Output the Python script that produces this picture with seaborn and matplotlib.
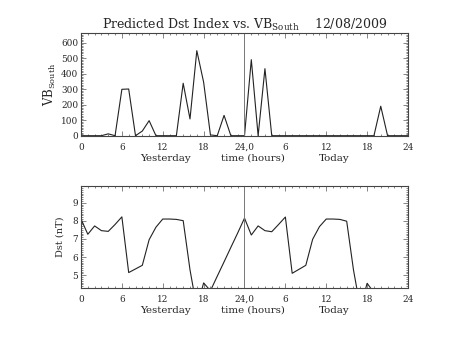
import matplotlib
matplotlib.use("Agg")
import matplotlib.pyplot as plt
from matplotlib.ticker import MultipleLocator
import pandas as pd
import seaborn as sns

# Hourly values: hours 0-24 are yesterday, 24-48 today
vb_hours = list(range(0, 49))
vb_south = [0, 0, 0, 0, 12, 0, 299, 301, 0, 30, 97, 0, 0, 0, 0, 338, 108, 548, 345, 5, 0, 131, 0, 0,
            0, 490, 0, 432, 0, 0, 0, 0, 0, 0, 0, 0, 0, 0, 0, 0, 0, 0, 0, 0, 190, 0, 0, 0, 0]

dst_hours = list(range(0, 44))
dst_values = [8.10, 7.26, 7.72, 7.46, 7.42, 7.80, 8.22, 5.15, 5.35, 5.55, 6.96, 7.65,
              8.10, 8.10, 8.08, 8.01, 5.30, 3.20, 4.58, 4.15, 4.95, 5.74, 6.54, 7.33,
              8.15, 7.22, 7.72, 7.46, 7.40, 7.80, 8.21, 5.11, 5.33, 5.55, 6.98, 7.68,
              8.10, 8.10, 8.08, 7.98, 5.29, 3.20, 4.56, 4.05]

hour_ticks = [0, 6, 12, 18, 24, 30, 36, 42, 48]
hour_labels = ["0", "6", "12", "18", "24,0", "6", "12", "18", "24"]
day_labels = [("Yesterday", 12.4), ("time (hours)", 25.3), ("Today", 37.2)]

sns.set_style("ticks")
plt.rcParams["font.family"] = ["DejaVu Serif"]
plt.rcParams["mathtext.fontset"] = "dejavuserif"

fig = plt.figure(figsize=(4.53, 3.40), dpi=100)
fig.patch.set_facecolor("white")

ax_top = fig.add_axes([0.17881, 0.60088, 0.72185, 0.30118])
ax_bot = fig.add_axes([0.17881, 0.15294, 0.72185, 0.30000])

vb_df = pd.DataFrame({"hour": vb_hours, "vb": vb_south})
dst_df = pd.DataFrame({"hour": dst_hours, "dst": dst_values})

sns.lineplot(data=vb_df, x="hour", y="vb", ax=ax_top, color="#222222",
             linewidth=0.8, estimator=None, sort=False)
sns.lineplot(data=dst_df, x="hour", y="dst", ax=ax_bot, color="#222222",
             linewidth=0.8, estimator=None, sort=False)

ax_top.set_ylim(0, 660)
ax_top.yaxis.set_major_locator(MultipleLocator(100))
ax_top.yaxis.set_minor_locator(MultipleLocator(10))
ax_bot.set_ylim(4.30, 9.92)
ax_bot.yaxis.set_major_locator(MultipleLocator(1))
ax_bot.yaxis.set_minor_locator(MultipleLocator(0.1))

for ax in (ax_top, ax_bot):
    ax.set_facecolor("white")
    ax.set_xlim(0, 48)
    ax.set_xticks(hour_ticks)
    ax.set_xticklabels(hour_labels)
    ax.xaxis.set_minor_locator(MultipleLocator(1))
    ax.axvline(24, color="#777777", linewidth=0.7)
    for side in ax.spines.values():
        side.set_visible(True)
        side.set_color("#444444")
        side.set_linewidth(0.8)
    ax.tick_params(which="both", direction="in", top=True, right=True,
                   color="#555555", width=0.5, labelsize=6.4)
    ax.tick_params(which="major", length=3.5)
    ax.tick_params(which="minor", length=1.6)
    ax.tick_params(axis="x", which="major", pad=5)
    ax.tick_params(axis="y", which="major", pad=2)
    ax.set_xlabel("")
    ax.set_ylabel("")
    for text, xpos in day_labels:
        ax.text(xpos, -0.175, text, transform=ax.get_xaxis_transform(),
                ha="center", va="top", fontsize=7.4)

ax_top.text(-0.094, 0.5, r"VB$_{\mathrm{South}}$", transform=ax_top.transAxes,
            rotation=90, ha="center", va="center", fontsize=8.5)
ax_bot.text(-0.064, 0.5, "Dst (nT)", transform=ax_bot.transAxes,
            rotation=90, ha="center", va="center", fontsize=7)

ax_top.set_title(r"Predicted Dst Index vs. VB$_{\mathrm{South}}$    12/08/2009",
                 fontsize=9, pad=2.2)

fig.savefig("out.png", dpi=100, facecolor="white")
